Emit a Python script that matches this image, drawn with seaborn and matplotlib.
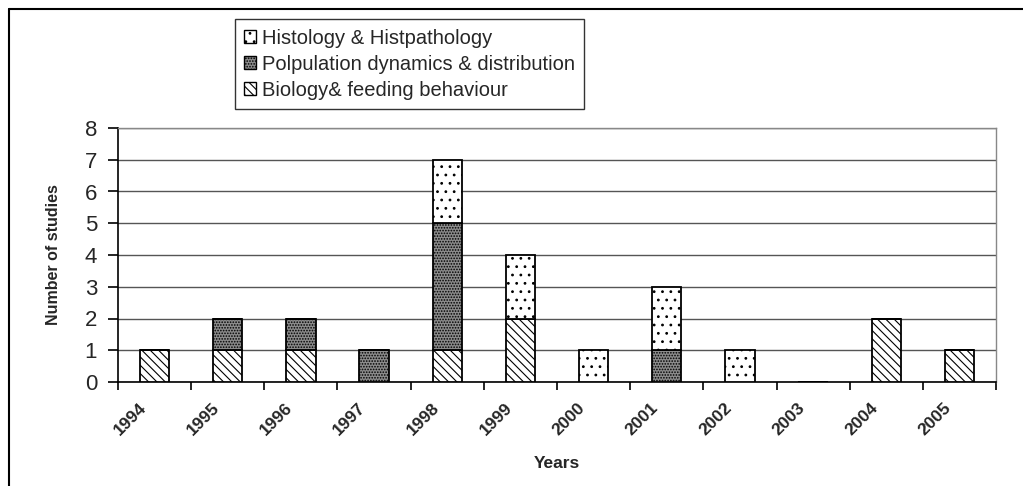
import matplotlib
matplotlib.use("Agg")
import matplotlib.pyplot as plt
import seaborn as sns
import pandas as pd
import numpy as np
from matplotlib.lines import Line2D
from matplotlib.patches import Patch
from matplotlib.transforms import ScaledTranslation

years = ["1994", "1995", "1996", "1997", "1998", "1999", "2000", "2001", "2002", "2003", "2004", "2005"]
biology = [1, 1, 1, 0, 1, 2, 0, 0, 0, 0, 2, 1]
population = [0, 1, 1, 1, 4, 0, 0, 1, 0, 0, 0, 0]
histology = [0, 0, 0, 0, 2, 2, 1, 2, 1, 0, 0, 0]
series_names = ["Histology & Histpathology", "Polpulation dynamics & distribution", "Biology& feeding behaviour"]
y_ticks = [0, 1, 2, 3, 4, 5, 6, 7, 8]

sns.set_theme(style="white")
plt.rcParams["font.family"] = ["Liberation Sans", "DejaVu Sans"]
plt.rcParams["hatch.linewidth"] = 0.8

HATCH_BIO = "\\\\\\\\"
HATCH_POP = "......"
HATCH_HIST = ".."
POP_FACE = "#8c8c8c"

fig = plt.figure(figsize=(10.23, 4.86), dpi=100)
ax = fig.add_axes([118 / 1023, 1 - 382 / 486, (996 - 118) / 1023, (382 - 128) / 486])

df = pd.DataFrame({"year": years, "bio": biology, "pop": population, "hist": histology})
bottom_pop = np.array(biology)
bottom_hist = bottom_pop + np.array(population)

common = dict(width=0.4, edgecolor="black", linewidth=1.3, ax=ax, zorder=3)
sns.barplot(data=df, x="year", y="bio", color="white", hatch=HATCH_BIO, **common)
sns.barplot(data=df, x="year", y="pop", bottom=bottom_pop, color=POP_FACE, hatch=HATCH_POP, **common)
sns.barplot(data=df, x="year", y="hist", bottom=bottom_hist, color="white", hatch=HATCH_HIST, **common)

for c in ax.containers:
    for p in c.patches:
        p.set_edgecolor("black")

ax.set_ylim(0, 8)
ax.set_xlim(-0.5, len(years) - 0.5)
ax.set_yticks(y_ticks)
ax.set_yticklabels([str(t) for t in y_ticks], fontsize=16)
ax.yaxis.grid(True, color="#555555", linewidth=1.0, zorder=0)
ax.set_axisbelow(True)

# category boundary ticks (Excel style)
ax.set_xticks(np.arange(len(years)))
ax.set_xticklabels(years, rotation=45, ha="right", rotation_mode="anchor", fontsize=12.5, fontweight="bold")
ax.set_xticks(np.arange(-0.5, len(years)), minor=True)
ax.tick_params(axis="x", which="major", length=0, pad=13)
ax.tick_params(axis="x", which="minor", length=6, width=1.2, color="black", direction="out", bottom=True)
ax.tick_params(axis="y", which="major", length=7, width=1.2, color="black", direction="out", left=True, pad=8)
shift = ScaledTranslation(-16 / 100, 0, fig.dpi_scale_trans)
for lab in ax.get_xticklabels():
    lab.set_transform(lab.get_transform() + shift)

for side in ["left", "bottom"]:
    ax.spines[side].set_color("black")
    ax.spines[side].set_linewidth(1.2)
for side in ["top", "right"]:
    ax.spines[side].set_color("#888888")
    ax.spines[side].set_linewidth(1.0)

ax.set_xlabel("Years", fontsize=12.5, fontweight="bold", labelpad=13)
ax.set_ylabel("Number of studies", fontsize=11.5, fontweight="bold", labelpad=17)

handles = [
    Patch(facecolor="white", edgecolor="black", hatch=HATCH_HIST, label=series_names[0]),
    Patch(facecolor=POP_FACE, edgecolor="black", hatch=HATCH_POP, label=series_names[1]),
    Patch(facecolor="white", edgecolor="black", hatch=HATCH_BIO, label=series_names[2]),
]
leg = fig.legend(handles=handles, loc="upper left", bbox_to_anchor=(235 / 1023, 1 - 19.5 / 486),
                 fontsize=14.5, frameon=True, fancybox=False, shadow=False,
                 handlelength=0.6, handleheight=0.6, handletextpad=0.3, labelspacing=0.35,
                 borderpad=0.45, borderaxespad=0)
leg.get_frame().set_edgecolor("black")
leg.get_frame().set_linewidth(1.0)

fig.add_artist(Line2D([9 / 1023, 9 / 1023], [0, 1 - 9 / 486], color="black", linewidth=1.5, transform=fig.transFigure))
fig.add_artist(Line2D([9 / 1023, 1], [1 - 9 / 486, 1 - 9 / 486], color="black", linewidth=1.5, transform=fig.transFigure))

fig.savefig("out.png", dpi=100, facecolor="white")
